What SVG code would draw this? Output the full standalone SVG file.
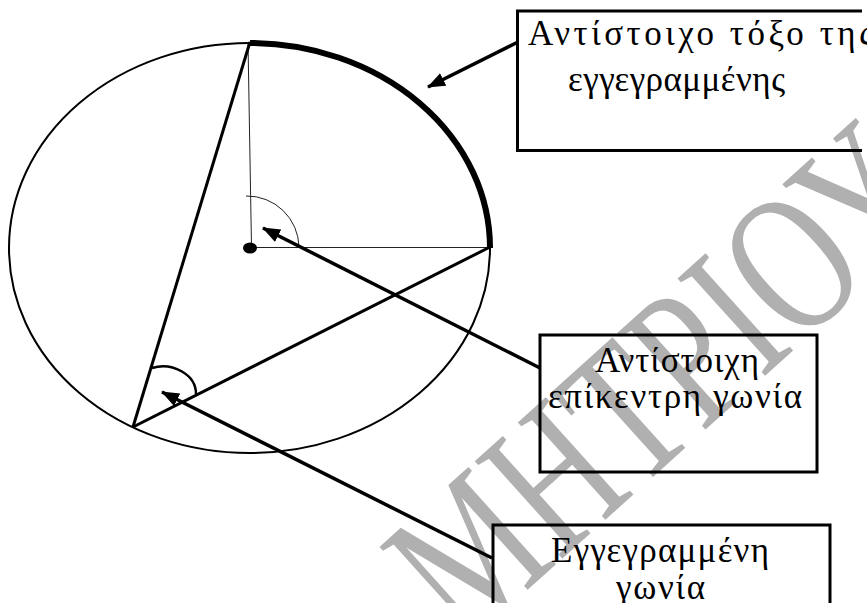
<svg xmlns="http://www.w3.org/2000/svg" width="867" height="603" viewBox="0 0 867 603">
<style>
.thin{fill:none;stroke:#222;stroke-width:1}
.circ{fill:none;stroke:#000;stroke-width:2}
.chord{fill:none;stroke:#000;stroke-width:3}
.box{fill:none;stroke:#000;stroke-width:3}
.lbl{font-family:"Liberation Serif","DejaVu Serif",serif;font-size:35px;fill:#000}
.conn{fill:none;stroke:#000;stroke-width:3.5;marker-end:url(#ah)}
.wm{font-family:"Liberation Serif","DejaVu Serif",serif;font-size:200px;fill:#b0b0b0}
</style>
<defs>
<marker id="ah" markerUnits="userSpaceOnUse" markerWidth="20" markerHeight="16" refX="17" refY="7" orient="auto">
<path d="M0,0 L18,7 L0,14 z" fill="#000"/>
</marker>
</defs>
<text class="wm" transform="translate(464,647) rotate(-42) scale(0.72,1)">ΜΗΤΡΙΟΥ</text>
<g id="figure">
<ellipse class="circ" cx="249.5" cy="248" rx="240.5" ry="205"/>
<path d="M250,43 A240.5,205 0 0 1 490,248" fill="none" stroke="#000" stroke-width="6"/>
<line class="thin" x1="251.5" y1="247" x2="248" y2="43"/>
<line class="thin" x1="250" y1="247.5" x2="490" y2="247.5"/>
<path class="thin" d="M246,196 A52,52 0 0 1 299,247"/>
<ellipse cx="250" cy="248" rx="7" ry="5.5" fill="#000"/>
<line class="chord" x1="133" y1="427" x2="250" y2="42"/>
<line class="chord" x1="133" y1="427" x2="490" y2="247"/>
<path d="M152,368 C172,362 196,374 196,394" fill="none" stroke="#000" stroke-width="2.5"/>
</g>
<g id="node-arc">
<path class="box" d="M862,11 H517.5 V150.5 H862"/>
<text class="lbl" x="528" y="45" textLength="345" lengthAdjust="spacing">Αντίστοιχο τόξο της</text>
<text class="lbl" x="568" y="91" textLength="217" lengthAdjust="spacing">εγγεγραμμένης</text>
</g>
<g id="node-central">
<rect class="box" x="540" y="335" width="277" height="137"/>
<text class="lbl" x="595" y="372" textLength="164" lengthAdjust="spacing">Αντίστοιχη</text>
<text class="lbl" x="548" y="408" textLength="254" lengthAdjust="spacing">επίκεντρη γωνία</text>
</g>
<g id="node-inscribed">
<rect class="box" x="493" y="525" width="337" height="100"/>
<text class="lbl" x="551" y="562" textLength="218" lengthAdjust="spacing">Εγγεγραμμένη</text>
<text class="lbl" x="616" y="599" textLength="89" lengthAdjust="spacing">γωνία</text>
</g>
<g id="connectors">
<line class="conn" x1="518" y1="42" x2="428" y2="87"/>
<line class="conn" x1="540" y1="368" x2="263" y2="228"/>
<line class="conn" x1="492" y1="558" x2="162" y2="392"/>
</g>
</svg>
